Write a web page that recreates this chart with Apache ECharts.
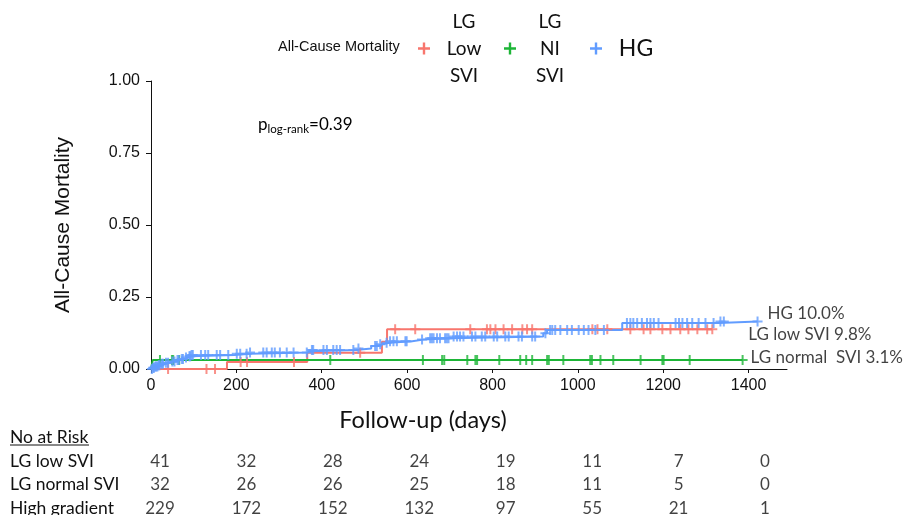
<!DOCTYPE html>
<html><head><meta charset="utf-8">
<script src="https://cdn.jsdelivr.net/npm/echarts@6/dist/echarts.min.js"></script>
<style>html,body{margin:0;padding:0;background:#fff}#c{width:907px;height:515px}</style>
</head><body><div id="c"></div>
<script>
// ---------- data ----------
const xTicks = [0, 200, 400, 600, 800, 1000, 1200, 1400];
const yTicks = [0, 0.25, 0.5, 0.75, 1];
const seriesNames = ['LG Low SVI', 'LG NI SVI', 'HG'];
const legendLines = [['LG', 'Low', 'SVI'], ['LG', 'NI', 'SVI'], ['HG']];
const endLabels = ['LG low SVI 9.8%', 'LG normal  SVI 3.1%', 'HG 10.0%'];

// Kaplan-Meier cumulative mortality steps: [day, value]
const lgLowSteps = [[0,0],[178,0.024],[366,0.056],[541,0.095],[553,0.138],[1315,0.138]];
const lgNormSteps = [[0,0],[4,0.031],[1386,0.031]];
const hgSteps = [[0,0],[3,0.004],[9,0.009],[16,0.013],[24,0.018],[33,0.022],[46,0.026],[58,0.031],[69,0.035],[78,0.040],[86,0.044],[94,0.049],[196,0.053],[232,0.057],[366,0.062],[372,0.066],[480,0.071],[516,0.080],[530,0.086],[542,0.091],[558,0.096],[612,0.102],[638,0.107],[701,0.113],[919,0.124],[928,0.135],[1104,0.160],[1330,0.165],[1421,0.165]];

// censoring times (days)
const lgLowCensor = [40,130,150,210,225,335,490,572,619,748,787,795,807,826,846,870,881,893,1034,1046,1069,1123,1154,1170,1198,1217,1240,1259,1280,1303,1315];
const lgNormCensor = [21,49,52,66,420,637,682,687,741,760,764,816,865,879,893,928,932,966,1029,1033,1053,1083,1147,1198,1201,1262,1386];
const hgCensor = [2,5,7,10,12,15,18,20,25,28,35,40,50,55,62,65,72,75,82,90,92,95,98,117,127,134,154,162,181,201,209,224,232,263,271,283,290,302,318,334,365,377,380,404,412,427,435,443,474,486,525,529,537,552,560,568,576,596,599,635,654,658,662,670,677,689,693,697,709,717,724,732,752,760,775,783,803,811,830,838,861,869,893,900,924,935,940,947,959,975,986,1002,1014,1025,1041,1061,1115,1123,1130,1139,1150,1162,1170,1178,1189,1229,1237,1245,1256,1268,1283,1299,1318,1334,1342,1421];

// numbers at risk
const riskHeader = 'No at Risk';
const riskRows = ['LG low SVI', 'LG normal SVI', 'High gradient'];
const riskLowSVI = [41, 32, 28, 24, 19, 11, 7, 0];
const riskNormSVI = [32, 26, 26, 25, 18, 11, 5, 0];
const riskHG = [229, 172, 152, 132, 97, 55, 21, 1];

// ---------- styling ----------
const colors = ['#F8766D', '#1DB537', '#619CFF'];
const plusPath = 'path://M-5,-1H5V1H-5Z M-1,-5H1V5H-1Z';
const stepsList = [lgLowSteps, lgNormSteps, hgSteps];
const censorList = [lgLowCensor, lgNormCensor, hgCensor];
const endOffsets = [[26, 5], [-2, -3], [0, -8]];
const sans = 'Lato';
const arial = 'Liberation Sans';

function valueAt(steps, t) {
  let v = steps[0][1];
  for (const s of steps) { if (s[0] <= t) v = s[1]; }
  return v;
}

const series = [];
stepsList.forEach((steps, i) => {
  series.push({
    name: seriesNames[i], type: 'line', step: 'end', data: steps,
    showSymbol: false, symbol: 'none', lineStyle: { color: colors[i], width: 2 },
    itemStyle: { color: colors[i] }, z: 2 + (i === 2 ? 1 : 0), silent: true
  });
});
censorList.forEach((cens, i) => {
  const data = cens.map((t, k) => {
    const item = { value: [t, valueAt(stepsList[i], t)] };
    if (k === cens.length - 1) {
      item.label = { show: true, position: 'right', distance: 5, offset: endOffsets[i],
        formatter: endLabels[i], color: '#111', fontSize: 17, fontFamily: sans };
    }
    return item;
  });
  series.push({
    name: seriesNames[i], type: 'scatter', data: data, symbol: plusPath, symbolSize: 10,
    itemStyle: { color: colors[i] }, z: 4, silent: true
  });
});

// risk table as scatter labels on a second grid
const riskValues = [riskLowSVI, riskNormSVI, riskHG];
const riskData = [];
riskValues.forEach((vals, r) => vals.forEach((v, k) => riskData.push([xTicks[k], riskRows[r], v])));
series.push({
  type: 'scatter', xAxisIndex: 1, yAxisIndex: 1, data: riskData, symbolSize: 1,
  itemStyle: { color: 'rgba(0,0,0,0)' }, silent: true,
  label: { show: true, position: 'inside', formatter: p => String(p.value[2]),
    color: '#111', fontSize: 17, fontFamily: sans }
});

const chart = echarts.init(document.getElementById('c'), null, { renderer: 'canvas' });
chart.setOption({
  animation: false,
  backgroundColor: '#fff',
  grid: [
    { left: 151, right: 120, top: 81, bottom: 146, outerBoundsMode: 'none' },
    { left: 160, width: 605, top: 426, height: 94, outerBoundsMode: 'none' }
  ],
  legend: {
    data: seriesNames, left: 413, top: 7, orient: 'horizontal',
    icon: plusPath, itemWidth: 20, itemHeight: 12, itemGap: 15, selectedMode: false,
    formatter: name => {
      const lines = legendLines[seriesNames.indexOf(name)];
      return lines.length === 1 ? '{h|' + lines[0] + '}' : lines.map(l => '{c|' + l + '}').join('\n');
    },
    textStyle: {
      rich: {
        c: { fontSize: 19, lineHeight: 27, width: 50, align: 'center', fontFamily: sans, color: '#111' },
        h: { fontSize: 23, width: 50, align: 'center', fontFamily: sans, color: '#111' }
      }
    }
  },
  xAxis: [
    { type: 'value', gridIndex: 0, min: 0, max: 1490, interval: 200,
      axisLine: { show: true, lineStyle: { color: '#111', width: 1 } },
      axisTick: { show: true, length: 4, customValues: xTicks, lineStyle: { color: '#111' } },
      axisLabel: { customValues: xTicks, formatter: v => String(v), fontSize: 16, fontFamily: arial, color: '#111', margin: 9 },
      splitLine: { show: false },
      name: 'Follow-up (days)', nameLocation: 'middle', nameGap: 39,
      nameTextStyle: { fontSize: 23.5, fontFamily: sans, color: '#111', padding: [0, 92, 0, 0] } },
    { type: 'value', gridIndex: 1, min: 0, max: 1400, show: false }
  ],
  yAxis: [
    { type: 'value', gridIndex: 0, min: 0, max: 1, interval: 0.25,
      axisLine: { show: true, lineStyle: { color: '#111', width: 1 } },
      axisTick: { show: true, length: 5, lineStyle: { color: '#111' } },
      axisLabel: { customValues: yTicks, formatter: v => v.toFixed(2), fontSize: 16, fontFamily: arial, color: '#111', margin: 11 },
      splitLine: { show: false },
      name: 'All-Cause Mortality', nameLocation: 'middle', nameRotate: 90, nameGap: 77,
      nameTextStyle: { fontSize: 21, fontFamily: arial, color: '#111' } },
    { type: 'category', gridIndex: 1, inverse: true, data: [riskHeader].concat(riskRows),
      axisLine: { show: false }, axisTick: { show: false }, splitLine: { show: false },
      axisLabel: { interval: 0, hideOverlap: false, align: 'left', margin: 150, fontSize: 17.5, fontFamily: sans, color: '#111' } }
  ],
  graphic: [
    { type: 'text', left: 278, top: 39, style: { text: 'All-Cause Mortality', fontSize: 14.5, fontFamily: arial, fill: '#111' } },
    { type: 'text', left: 258, top: 116, style: {
        text: '{a|p}{b|log-rank}{a|=0.39}',
        rich: { a: { fontSize: 17, fontFamily: sans, color: '#111' },
                b: { fontSize: 11.5, fontFamily: sans, color: '#111', padding: [10, 0, 0, 0] } } } },
    { type: 'line', shape: { x1: 10, y1: 445, x2: 89, y2: 445 }, style: { stroke: '#111', lineWidth: 1 } }
  ],
  series: series
});
</script></body></html>
